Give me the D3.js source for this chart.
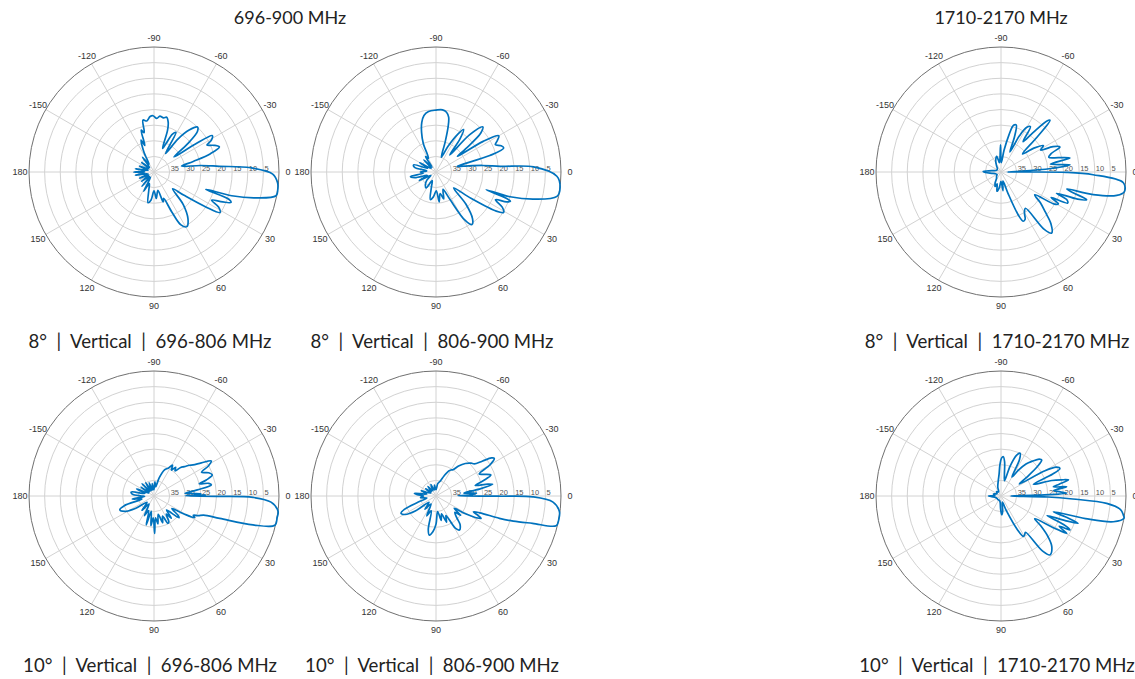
<!DOCTYPE html>
<html>
<head>
<meta charset="utf-8">
<script src="https://cdn.jsdelivr.net/npm/d3@7"></script>
<style>
  body { margin: 0; background: #fff; }
  svg { display: block; }
</style>
</head>
<body>
<svg id="chart" width="1135" height="679"></svg>
<script>
/* band titles and panel captions */
const bandTitles = ['696-900 MHz', '1710-2170 MHz'];
const captions = [
  '8°  |  Vertical  |  696-806 MHz', '8°  |  Vertical  |  806-900 MHz', '8°  |  Vertical  |  1710-2170 MHz',
  '10°  |  Vertical  |  696-806 MHz', '10°  |  Vertical  |  806-900 MHz', '10°  |  Vertical  |  1710-2170 MHz',
];

/* axes */
const thetaTicks = [0, 30, 60, 90, 120, 150, 180, -150, -120, -90, -60, -30];
const ringLevels = [35, 30, 25, 20, 15, 10, 5, 0];
const radialTicks = [35, 30, 25, 20, 15, 10, 5];

/* patterns: [angle deg, dB below peak] */
const pattern8Low = [
  [-180, 33.5], [-175, 37], [-170, 34], [-165, 38], [-158, 35], [-150, 38], [-142, 35], [-135, 38],
  [-128, 34], [-122, 37], [-117, 33], [-112, 29], [-109, 31], [-107, 26], [-104, 27], [-102, 23],
  [-98, 23.5], [-94, 22.2], [-91, 22], [-87, 22.8], [-84, 22], [-80, 22.4], [-77, 22], [-74, 23.5],
  [-72, 26], [-70, 32], [-67, 30], [-64, 26.5], [-61, 25.5], [-58, 33], [-54, 27], [-50, 22.5],
  [-46, 20], [-43, 21], [-40, 26], [-37, 32], [-34, 24], [-32, 18], [-29, 19], [-27, 21], [-24, 19],
  [-21, 17.6], [-18, 21], [-15, 27], [-12, 31], [-8, 25], [-5, 19], [-2.5, 9], [1, 2], [5, 0.3],
  [8, 0], [11, 0.2], [14.5, 7], [17, 14], [18.5, 22.5], [20, 14.5], [21.5, 13.5], [23.5, 16],
  [26, 19.5], [28.5, 16.5], [31.5, 15.2], [34, 20], [38, 28], [42, 32], [48, 26], [54, 21.5],
  [59, 19.6], [63, 21], [66, 26], [70, 31], [73, 30], [78, 34], [85, 31.5], [90, 34], [96, 31],
  [101, 30], [106, 34], [112, 36], [118, 33], [124, 38], [130, 34], [136, 38], [143, 35], [150, 38],
  [157, 35], [163, 38], [170, 34], [175, 37],
];
const pattern8High = [
  [-180, 35], [-173, 37], [-168, 33], [-162, 32.5], [-157, 37], [-150, 34], [-143, 38], [-135, 34.5],
  [-130, 38], [-124, 34], [-119, 35], [-114, 30], [-110, 26.5], [-106, 23.5], [-102, 21.5], [-97, 20.5],
  [-90, 20.2], [-84, 20], [-80, 20.6], [-77, 22], [-75, 25], [-73, 30], [-70, 35], [-65, 31], [-60, 26],
  [-57, 23.8], [-54, 27], [-51, 33], [-48, 24], [-44, 19.2], [-41, 21], [-38, 28], [-36, 31.5],
  [-33, 22], [-30, 16.8], [-27, 18], [-24.7, 19.1], [-22, 17.5], [-19.5, 17], [-17, 22], [-15, 33],
  [-12, 31], [-8, 25], [-5, 19.3], [-3, 8.7], [2, 1.3], [7, 0], [11.4, 0.5], [15.5, 7.5], [18.5, 15],
  [19.5, 23], [20.5, 16], [21.5, 14.4], [23, 15.5], [25, 19], [28, 16], [30.8, 14.8], [33, 17],
  [37, 26], [42, 32.4], [47, 26], [52, 21], [55.6, 19.6], [59, 22], [63, 30], [68, 34], [74, 31],
  [79, 33], [84, 30.4], [89, 34], [96, 32], [101.6, 31], [107, 35], [114, 37], [122, 34], [130, 34.7],
  [138, 36], [146, 38], [153, 34], [159, 37], [165, 33], [170, 31.7], [175, 36],
];
const pattern8Pcs = [
  [-178, 34.3], [-172, 37], [-160, 38.5], [-140, 38.5], [-125, 37.5], [-115, 36], [-105, 34.8],
  [-100, 37], [-95, 36], [-91, 31.3], [-88, 37], [-82, 33], [-78, 28], [-75, 24.5], [-72, 24.2],
  [-69, 28], [-66, 33], [-63, 27], [-60, 23.5], [-57, 22.7], [-54, 28], [-51, 24], [-48, 18],
  [-46.5, 17.2], [-44, 24], [-40, 31], [-36, 27], [-32, 24], [-29, 25.5], [-26, 21.5], [-23, 19.5],
  [-20, 23], [-17, 24], [-14, 21], [-11.5, 17.5], [-9, 24], [-6, 17.8], [-4, 24], [-2, 34],
  [-0.5, 38], [0.3, 19], [1.7, 10.5], [5, 0.7], [9, 0], [11.4, 2.2], [13.8, 9.6], [14.5, 18.3],
  [16, 16], [17.9, 11.2], [19.5, 14], [21, 21], [23, 17], [25, 16.5], [27, 22], [29, 19], [31, 20],
  [34, 27], [38, 24], [42, 21], [46, 17], [50.3, 14.6], [53, 17], [56, 26], [60, 25], [63, 23],
  [65.6, 22.7], [68, 25], [72, 33], [78, 37], [84, 34], [90, 37], [96, 35], [102, 33.7], [108, 36],
  [112, 35], [118, 36], [125, 37.5], [135, 38], [150, 38.5], [165, 38], [172, 37], [178, 35],
];
const pattern10Low = [
  [-180, 36], [-175, 33], [-170, 32.6], [-165, 37], [-158, 34], [-152, 38], [-146, 35], [-140, 38],
  [-134, 34.5], [-128, 38], [-122, 35], [-116, 38], [-110, 35.5], [-104, 38], [-98, 36], [-92, 38],
  [-86, 35.5], [-80, 37], [-74, 34], [-68, 31], [-63, 30], [-59, 28.5], [-56, 30], [-53, 28.5],
  [-50, 29.5], [-47, 27.5], [-44, 26.5], [-41, 25], [-38.5, 24], [-35, 21.5], [-31.4, 18.5],
  [-29, 20], [-26.5, 23], [-23, 21], [-19.8, 20.2], [-17, 22.5], [-15, 25], [-13, 22], [-11, 21.3],
  [-8, 26], [-5, 30], [-3, 25], [-2, 27], [-1, 23.5], [-0.3, 30], [0.3, 19], [0.8, 8.3], [3, 2.5],
  [7, 0], [10, 0], [13.6, 0.2], [16.3, 7], [18.8, 17.8], [21, 23], [24, 24.5], [26, 26], [28, 25.3],
  [31, 29], [35, 33], [39, 30], [41, 29.4], [44, 32], [48, 34], [52, 31], [56, 33], [60, 30.5],
  [63, 30.2], [67, 33], [72, 31], [77, 34], [82, 31], [86, 33], [89, 28], [92, 33], [96, 30.5],
  [100, 35], [105, 30.4], [110, 35], [116, 33], [122, 37], [130, 34], [138, 37], [146, 33],
  [152, 29.5], [158, 28.2], [162, 30], [166, 36], [172, 33], [177, 37],
];
const pattern10High = [
  [-180, 36], [-176, 34], [-173, 33], [-168, 37], [-160, 35], [-152, 38], [-145, 36], [-138, 38],
  [-130, 36], [-122, 38], [-114, 36], [-106, 38], [-98, 36.5], [-90, 38], [-82, 36], [-74, 35],
  [-68, 33], [-63, 31], [-60, 30.4], [-57, 30], [-53, 28], [-48, 26], [-43, 24.6], [-40, 24],
  [-37, 21.5], [-34.5, 18.5], [-32.9, 17.8], [-30, 20], [-27, 24.5], [-24, 23], [-20.9, 21.2],
  [-18, 24], [-15, 27], [-13, 23], [-11.6, 21.5], [-9, 26], [-6, 31], [-4, 27], [-2, 29], [-0.5, 33],
  [0.2, 20], [0.5, 9], [3, 2.5], [7.2, 0.2], [10.9, 0], [13.9, 0.4], [15.8, 7.9], [18, 14],
  [19.4, 18.5], [21, 25], [23, 27], [25, 25], [26.4, 23.9], [28, 25], [31, 29], [34, 33], [38, 30],
  [41, 32], [46, 30.5], [50, 28], [55.5, 26.8], [59, 28], [63, 33], [68, 31], [73, 34], [78, 32],
  [84, 35], [90, 31], [95, 28.5], [99.7, 27.3], [103, 29], [108, 35], [115, 33], [122, 37],
  [130, 34.5], [138, 37], [144, 32], [149, 28.5], [153.6, 27.5], [157, 29], [161, 34], [167, 37],
  [174, 35],
];
const pattern10Pcs = [
  [-180, 36], [-174, 38], [-165, 37.5], [-150, 38.5], [-135, 38], [-120, 38.5], [-110, 37],
  [-100, 35], [-95, 33], [-92, 30], [-89, 27.8], [-86.6, 27.4], [-84, 29], [-81, 33], [-77, 35],
  [-73, 30], [-69, 26], [-66, 25], [-63, 27], [-60, 33], [-56, 30], [-52, 27], [-48, 25], [-44, 23],
  [-41.5, 22.6], [-39, 25], [-36, 30], [-33, 33], [-30, 24], [-27.5, 20], [-25, 19.2], [-23, 22],
  [-20, 29], [-17, 23], [-15, 20], [-13.4, 17.8], [-11.5, 21], [-10, 23], [-8, 18.8], [-6, 23],
  [-4, 21], [-2.4, 19], [-1.2, 28], [0, 37], [1.2, 25], [2.4, 17], [4, 6.1], [6.5, 1.5], [8.8, 0.4],
  [10.2, 0], [12.9, 3.1], [15, 12], [16.7, 22.5], [18, 18], [19.5, 13.8], [21, 18], [23, 24],
  [24.5, 18], [26.2, 15.4], [27.5, 19], [29.6, 15.8], [31, 20], [34, 27], [37, 24], [41, 20],
  [45, 17], [50.3, 15.5], [53, 18], [56, 26], [58.5, 25.5], [61, 25.2], [64, 28], [70, 35], [78, 38],
  [84, 35], [88, 34], [92, 36], [98, 38], [110, 38.5], [130, 38.5], [150, 38.5], [170, 38], [176, 37],
];

const patterns = [pattern8Low, pattern8High, pattern8Pcs, pattern10Low, pattern10High, pattern10Pcs];

/* layout */
const colX = [154, 436, 1001];
const rowY = [172, 496];
const R = 125;

const svg = d3.select('#chart');

// 0 dB on the outer ring, 40 dB in the centre
const rScale = d3.scaleLinear().domain([40, 0]).range([0, R]);
// 0 deg points right, angles grow clockwise
const aScale = d3.scaleLinear().domain([-90, 270]).range([0, 2 * Math.PI]);

const line = d3.lineRadial()
  .angle((d) => aScale(d[0]))
  .radius((d) => rScale(d[1]))
  .curve(d3.curveCatmullRomClosed.alpha(0.5));

function drawPanel(g, pattern) {
  g.selectAll('circle.ring')
    .data(ringLevels.filter((d) => d > 0))
    .join('circle')
    .attr('class', 'ring')
    .attr('r', (d) => rScale(d))
    .attr('fill', 'none')
    .attr('stroke', '#d2d2d2')
    .attr('stroke-width', 1);

  g.selectAll('line.spoke')
    .data(thetaTicks)
    .join('line')
    .attr('class', 'spoke')
    .attr('x1', 0)
    .attr('y1', 0)
    .attr('x2', (d) => d3.pointRadial(aScale(d), R)[0])
    .attr('y2', (d) => d3.pointRadial(aScale(d), R)[1])
    .attr('stroke', '#d2d2d2')
    .attr('stroke-width', 1);

  g.append('circle')
    .attr('r', rScale(0))
    .attr('fill', 'none')
    .attr('stroke', '#707070')
    .attr('stroke-width', 1);

  g.selectAll('text.rtick')
    .data(radialTicks)
    .join('text')
    .attr('class', 'rtick')
    .attr('x', (d) => rScale(d) + 1)
    .attr('y', -1.5)
    .attr('font-family', 'Liberation Sans, Arial, sans-serif')
    .attr('font-size', 7.5)
    .attr('fill', '#555')
    .text((d) => d);

  g.append('path')
    .datum(pattern)
    .attr('d', line)
    .attr('fill', 'none')
    .attr('stroke', '#0072BD')
    .attr('stroke-width', 1.7)
    .attr('stroke-linejoin', 'round');

  g.selectAll('text.ttick')
    .data(thetaTicks)
    .join('text')
    .attr('class', 'ttick')
    .attr('x', (d) => d3.pointRadial(aScale(d), R + 9)[0])
    .attr('y', (d) => d3.pointRadial(aScale(d), R + 9)[1])
    .attr('text-anchor', 'middle')
    .attr('dominant-baseline', 'central')
    .attr('font-family', 'Liberation Sans, Arial, sans-serif')
    .attr('font-size', 9)
    .attr('fill', '#333')
    .text((d) => d);
}

patterns.forEach((p, i) => {
  const col = i % 3;
  const row = Math.floor(i / 3);
  const g = svg.append('g')
    .attr('transform', `translate(${colX[col]},${rowY[row]})`);
  drawPanel(g, p);

  svg.append('text')
    .attr('x', colX[col] - 4)
    .attr('y', rowY[row] + 169)
    .attr('text-anchor', 'middle')
    .attr('dominant-baseline', 'central')
    .attr('font-family', 'Lato, sans-serif')
    .attr('font-size', 18.6)
    .attr('fill', '#222')
    .style('white-space', 'pre')
    .text(captions[i]);
});

svg.selectAll('text.band')
  .data(bandTitles)
  .join('text')
  .attr('class', 'band')
  .attr('x', (d, i) => (i === 0 ? (colX[0] + colX[1]) / 2 - 5 : colX[2]))
  .attr('y', 17)
  .attr('text-anchor', 'middle')
  .attr('dominant-baseline', 'central')
  .attr('font-family', 'Lato, sans-serif')
  .attr('font-size', 18)
  .attr('fill', '#222')
  .text((d) => d);
</script>
</body>
</html>
